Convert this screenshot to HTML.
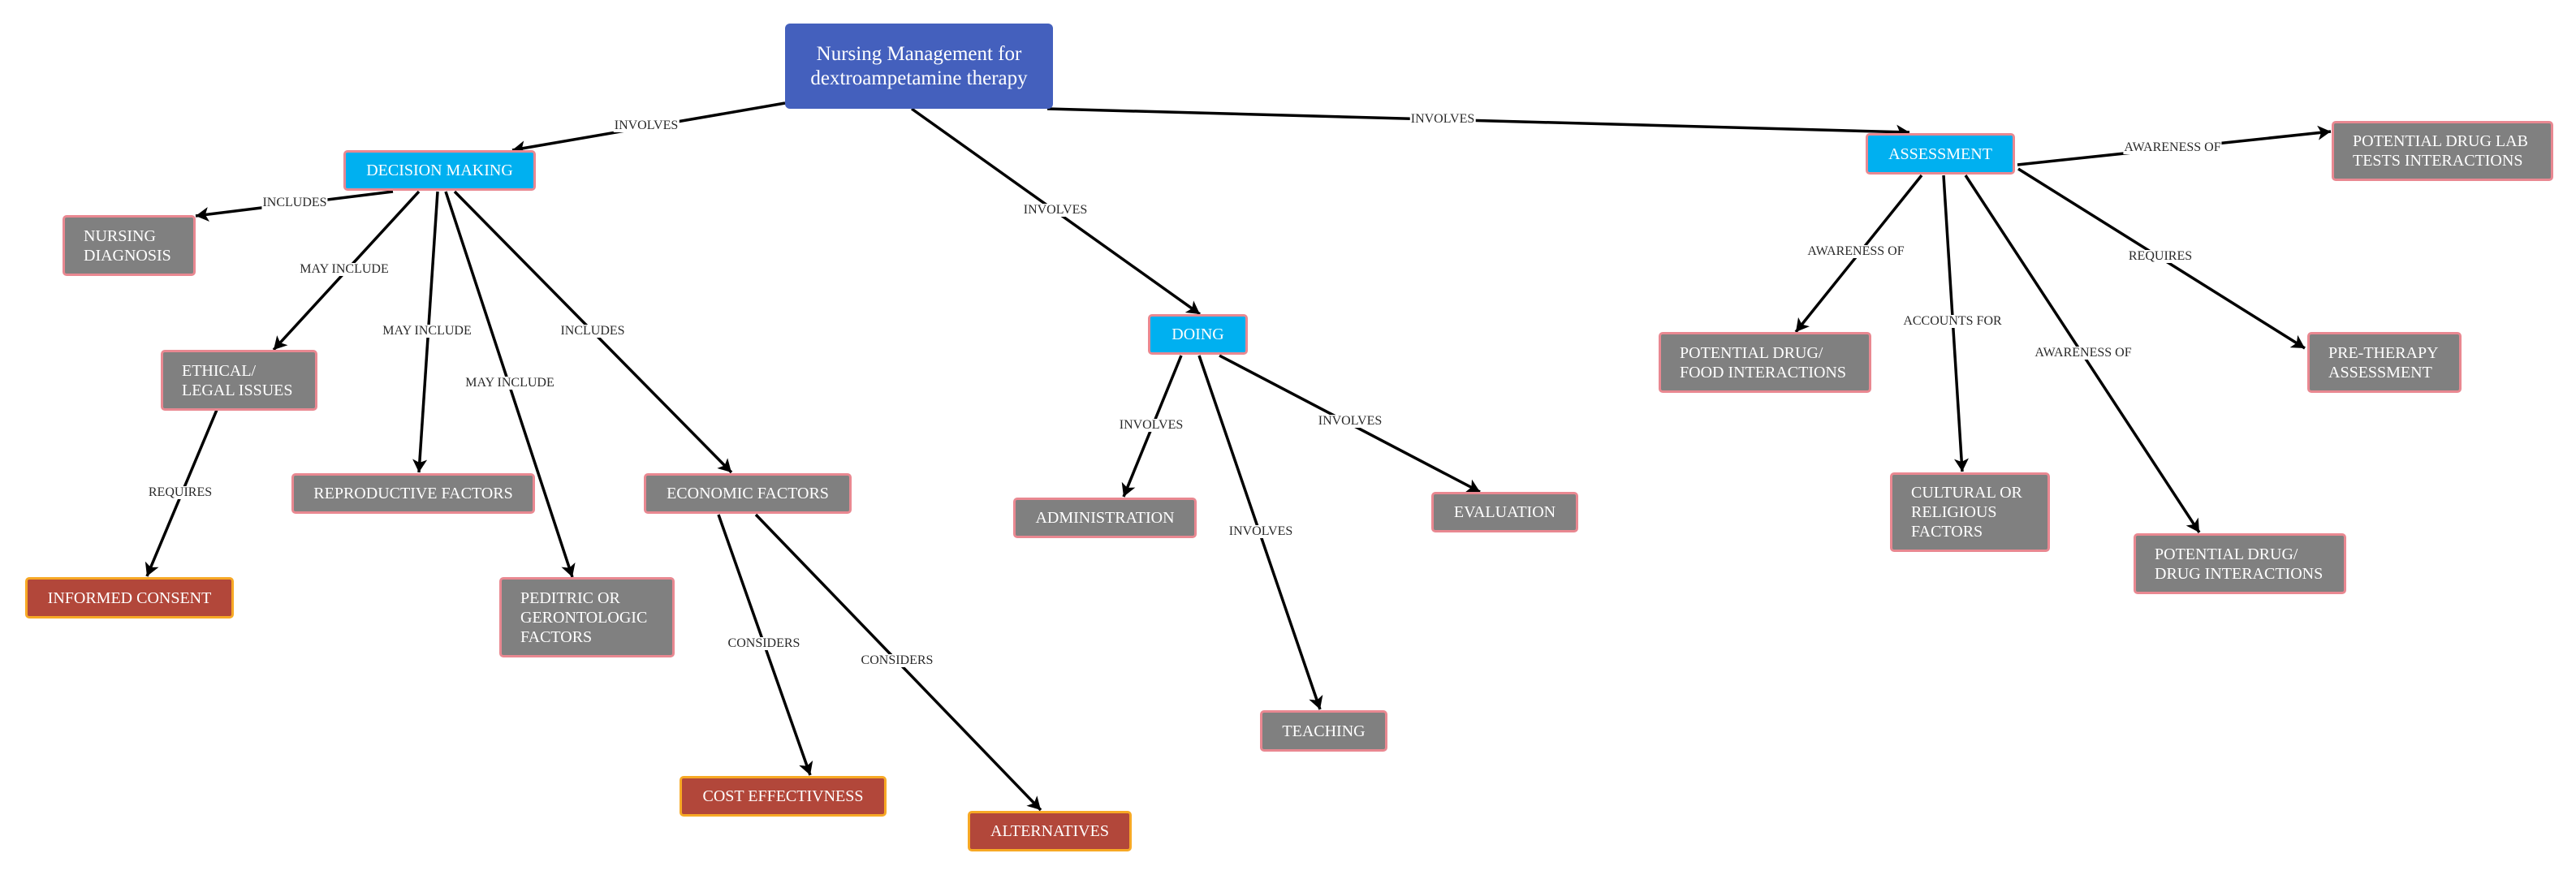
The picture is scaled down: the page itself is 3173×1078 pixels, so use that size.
<!DOCTYPE html>
<html>
<head>
<meta charset="utf-8">
<style>
  html, body { margin:0; padding:0; background:#fff; }
  body { width:3173px; height:1078px; position:relative; overflow:hidden; font-family:"Liberation Serif", "Times New Roman", serif; }
  svg.edges { position:absolute; left:0; top:0; }
  .n { position:absolute; box-sizing:border-box; border:3px solid #e98891; border-radius:5px; background:#808080; color:#fff; font-size:20px; line-height:24px; white-space:nowrap; display:flex; align-items:center; }
  .c { justify-content:center; }
  .l { justify-content:flex-start; padding-left:23px; }
  .cy { background:#00b0f0; }
  .rd { background:#b2473a; border-color:#f7a925; }
  .root { background:#4460bd; border:none; font-size:25px; line-height:30px; text-align:center; justify-content:center; border-radius:6px; }
  .lb { position:absolute; transform:translate(-50%,-50%); background:#fff; color:#2a2a2a; font-size:16px; line-height:16px; padding:0 1px; white-space:nowrap; }
</style>
</head>
<body>
<svg class="edges" width="3173" height="1078" viewBox="0 0 3173 1078">
  <defs>
    <marker id="a" markerUnits="userSpaceOnUse" markerWidth="22" markerHeight="22" refX="16" refY="9" orient="auto">
      <path d="M0,0 L16,9 L0,18 L4,9 Z" fill="#000"/>
    </marker>
  </defs>
  <g stroke="#000" stroke-width="3.5" fill="none" marker-end="url(#a)">
    <line x1="967" y1="127" x2="631" y2="185"/>
    <line x1="484" y1="236" x2="241" y2="266"/>
    <line x1="516" y1="236" x2="337" y2="431"/>
    <line x1="539" y1="236" x2="516" y2="582"/>
    <line x1="549" y1="236" x2="705" y2="711"/>
    <line x1="560" y1="236" x2="901" y2="582"/>
    <line x1="267" y1="505" x2="181" y2="710"/>
    <line x1="885" y1="634" x2="998" y2="955"/>
    <line x1="931" y1="634" x2="1282" y2="998"/>
    <line x1="1123" y1="134" x2="1478" y2="387"/>
    <line x1="1290" y1="134" x2="2352" y2="163"/>
    <line x1="1455" y1="438" x2="1384" y2="612"/>
    <line x1="1477" y1="438" x2="1626" y2="874"/>
    <line x1="1502" y1="438" x2="1823" y2="606"/>
    <line x1="2485" y1="203" x2="2871" y2="162"/>
    <line x1="2367" y1="216" x2="2212" y2="409"/>
    <line x1="2394" y1="216" x2="2417" y2="581"/>
    <line x1="2421" y1="216" x2="2709" y2="656"/>
    <line x1="2486" y1="208" x2="2839" y2="429"/>
  </g>
</svg>

<!-- connector labels -->
<div class="lb" style="left:796px;top:155px;">INVOLVES</div>
<div class="lb" style="left:363px;top:250px;">INCLUDES</div>
<div class="lb" style="left:424px;top:332px;">MAY INCLUDE</div>
<div class="lb" style="left:526px;top:408px;">MAY INCLUDE</div>
<div class="lb" style="left:628px;top:472px;">MAY INCLUDE</div>
<div class="lb" style="left:730px;top:408px;">INCLUDES</div>
<div class="lb" style="left:222px;top:607px;">REQUIRES</div>
<div class="lb" style="left:941px;top:793px;">CONSIDERS</div>
<div class="lb" style="left:1105px;top:814px;">CONSIDERS</div>
<div class="lb" style="left:1300px;top:259px;">INVOLVES</div>
<div class="lb" style="left:1777px;top:147px;">INVOLVES</div>
<div class="lb" style="left:1418px;top:524px;">INVOLVES</div>
<div class="lb" style="left:1553px;top:655px;">INVOLVES</div>
<div class="lb" style="left:1663px;top:519px;">INVOLVES</div>
<div class="lb" style="left:2676px;top:182px;">AWARENESS OF</div>
<div class="lb" style="left:2286px;top:310px;">AWARENESS OF</div>
<div class="lb" style="left:2405px;top:396px;">ACCOUNTS FOR</div>
<div class="lb" style="left:2566px;top:435px;">AWARENESS OF</div>
<div class="lb" style="left:2661px;top:316px;">REQUIRES</div>

<!-- nodes -->
<div class="n root" style="left:967px;top:29px;width:330px;height:105px;">Nursing Management for<br>dextroampetamine therapy</div>

<div class="n c cy" style="left:423px;top:185px;width:237px;height:50px;">DECISION MAKING</div>
<div class="n l" style="left:77px;top:265px;width:164px;height:75px;">NURSING<br>DIAGNOSIS</div>
<div class="n l" style="left:198px;top:431px;width:193px;height:75px;">ETHICAL/<br>LEGAL ISSUES</div>
<div class="n c" style="left:359px;top:583px;width:300px;height:50px;">REPRODUCTIVE FACTORS</div>
<div class="n c" style="left:793px;top:583px;width:256px;height:50px;">ECONOMIC FACTORS</div>
<div class="n c rd" style="left:31px;top:711px;width:257px;height:51px;">INFORMED CONSENT</div>
<div class="n l" style="left:615px;top:711px;width:216px;height:99px;">PEDITRIC OR<br>GERONTOLOGIC<br>FACTORS</div>
<div class="n c rd" style="left:837px;top:956px;width:255px;height:50px;">COST EFFECTIVNESS</div>
<div class="n c rd" style="left:1192px;top:999px;width:202px;height:50px;">ALTERNATIVES</div>

<div class="n c cy" style="left:1414px;top:387px;width:123px;height:50px;">DOING</div>
<div class="n c" style="left:1248px;top:613px;width:226px;height:50px;">ADMINISTRATION</div>
<div class="n c" style="left:1763px;top:606px;width:181px;height:50px;">EVALUATION</div>
<div class="n c" style="left:1552px;top:875px;width:157px;height:51px;">TEACHING</div>

<div class="n c cy" style="left:2298px;top:164px;width:184px;height:51px;">ASSESSMENT</div>
<div class="n l" style="left:2872px;top:149px;width:273px;height:74px;">POTENTIAL DRUG LAB<br>TESTS INTERACTIONS</div>
<div class="n l" style="left:2043px;top:409px;width:262px;height:75px;">POTENTIAL DRUG/<br>FOOD INTERACTIONS</div>
<div class="n l" style="left:2842px;top:409px;width:190px;height:75px;">PRE-THERAPY<br>ASSESSMENT</div>
<div class="n l" style="left:2328px;top:582px;width:197px;height:98px;">CULTURAL OR<br>RELIGIOUS<br>FACTORS</div>
<div class="n l" style="left:2628px;top:657px;width:262px;height:75px;">POTENTIAL DRUG/<br>DRUG INTERACTIONS</div>
</body>
</html>
